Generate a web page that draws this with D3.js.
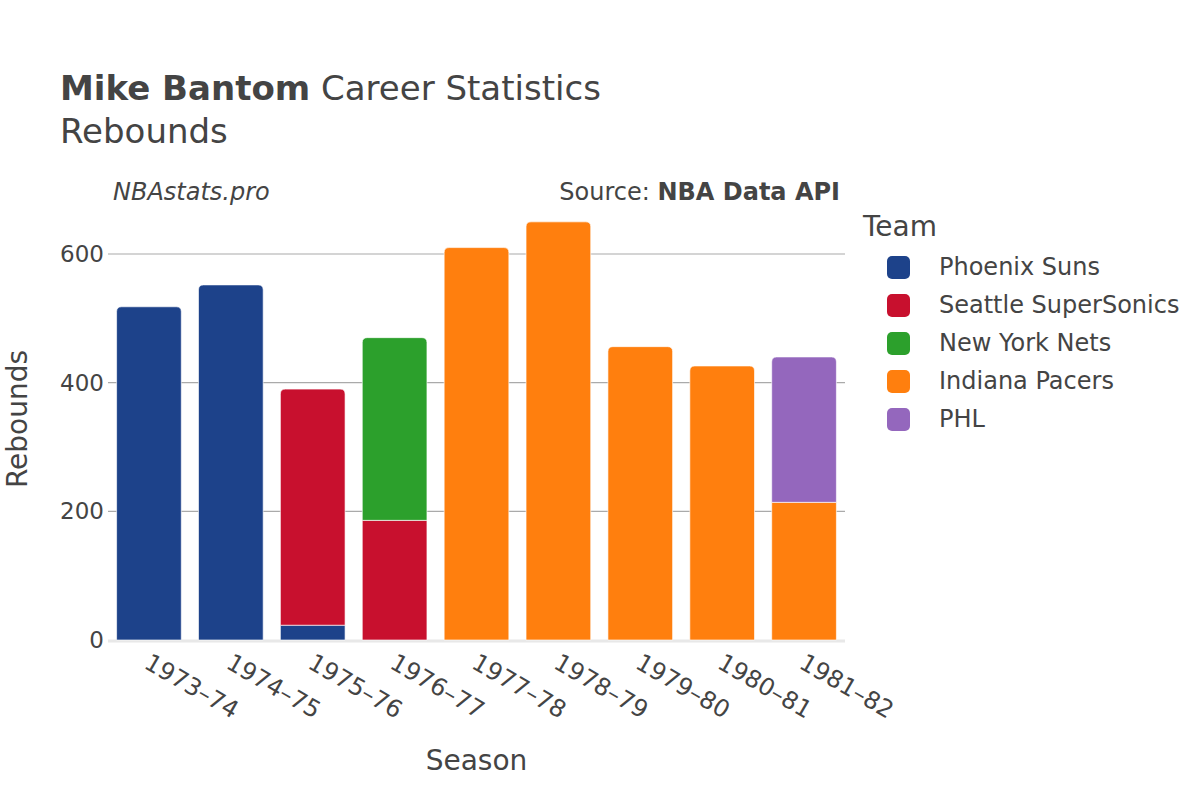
<!DOCTYPE html>
<html><head><meta charset="utf-8">
<script src="https://cdn.jsdelivr.net/npm/d3@7"></script>
<style>body{margin:0;background:#fff}svg{font-family:"DejaVu Sans",sans-serif}</style>
</head><body><svg id="c" width="1200" height="800"></svg>
<script>
const seasons = ["1973–74","1974–75","1975–76","1976–77","1977–78","1978–79","1979–80","1980–81","1981–82"];
const teams = ["Phoenix Suns","Seattle SuperSonics","New York Nets","Indiana Pacers","PHL"];
const colors = ["#1d428a","#c8102e","#2ca02c","#ff7f0e","#9467bd"];
const phoenix = [518,552,23,0,0,0,0,0,0];
const seattle = [0,0,367,186,0,0,0,0,0];
const nets    = [0,0,0,284,0,0,0,0,0];
const indiana = [0,0,0,0,610,650,456,426,214];
const phl     = [0,0,0,0,0,0,0,0,226];
const yTicks = [0,200,400,600];
const series = [phoenix,seattle,nets,indiana,phl];

const svg = d3.select("#c");
const txt = "#444";
const L=108,R=845,T=215,B=640;
const x = d3.scaleBand().domain(seasons).range([L,R]).paddingInner(0.21).paddingOuter(0.105);
const y = d3.scaleLinear().domain([0,660]).range([B,B-660*0.6433]);

// gridlines
svg.append("g").selectAll("line").data(yTicks.filter(d=>d>0)).join("line")
  .attr("x1",L).attr("x2",R).attr("y1",d=>y(d)).attr("y2",d=>y(d))
  .attr("stroke","#aaaaaa").attr("stroke-width",1.2);
svg.append("line").attr("x1",L).attr("x2",R).attr("y1",y(0)+1).attr("y2",y(0)+1)
  .attr("stroke","#e8e8e8").attr("stroke-width",3);

// y tick labels
svg.append("g").selectAll("text").data(yTicks).join("text")
  .attr("x",L-4).attr("y",d=>y(d)).attr("dy","0.35em").attr("text-anchor","end")
  .attr("font-size",23).attr("fill",txt).text(d=>d);

// bars
const rad=5;
function barPath(x0,w,y0,y1,rounded){
  const r = rounded?Math.min(rad,(y0-y1)/2,w/2):0;
  return `M${x0},${y0}V${y1+r}Q${x0},${y1} ${x0+r},${y1}H${x0+w-r}Q${x0+w},${y1} ${x0+w},${y1+r}V${y0}Z`;
}
const g = svg.append("g");
seasons.forEach((s,i)=>{
  let acc=0;
  const segs=[];
  series.forEach((arr,k)=>{ if(arr[i]>0){segs.push({k,v0:acc,v1:acc+arr[i]}); acc+=arr[i];}});
  segs.forEach((sg,j)=>{
    g.append("path").attr("d",barPath(x(s),x.bandwidth(),y(sg.v0),y(sg.v1),j===segs.length-1))
      .attr("fill",colors[sg.k]).attr("stroke","#fff").attr("stroke-width",0.8).attr("stroke-opacity",0.8);
  });
});

// x tick labels
svg.append("g").selectAll("text").data(seasons).join("text")
  .attr("transform",d=>`translate(${x(d)+x.bandwidth()/2-2},${B+20}) rotate(30)`)
  .attr("font-size",24).attr("fill",txt).attr("dy","0.35em").text(d=>d);

// axis titles
svg.append("text").attr("x",(L+R)/2).attr("y",770).attr("text-anchor","middle")
  .attr("font-size",28).attr("fill",txt).text("Season");
svg.append("text").attr("transform",`translate(17,419) rotate(-90)`).attr("text-anchor","middle")
  .attr("dy","0.35em").attr("font-size",28).attr("fill",txt).text("Rebounds");

// title
const t = svg.append("text").attr("x",60).attr("y",100).attr("font-size",34).attr("fill",txt);
t.append("tspan").attr("font-weight","bold").text("Mike Bantom");
t.append("tspan").text(" Career Statistics");
svg.append("text").attr("x",60).attr("y",143).attr("font-size",34).attr("fill",txt).text("Rebounds");

svg.append("text").attr("x",113).attr("y",200).attr("font-size",24).attr("font-style","italic").attr("fill",txt).text("NBAstats.pro");
const s2 = svg.append("text").attr("x",840).attr("y",200).attr("text-anchor","end").attr("font-size",24).attr("fill",txt);
s2.append("tspan").text("Source: ");
s2.append("tspan").attr("font-weight","bold").text("NBA Data API");

// legend
svg.append("text").attr("x",863).attr("y",236).attr("font-size",28).attr("fill",txt).text("Team");
const lg = svg.append("g").selectAll("g").data(teams).join("g")
  .attr("transform",(d,i)=>`translate(887,${267+i*38})`);
lg.append("rect").attr("x",0).attr("y",-11).attr("width",23).attr("height",23).attr("rx",5)
  .attr("fill",(d,i)=>colors[i]);
lg.append("text").attr("x",52).attr("dy","0.35em").attr("font-size",24).attr("fill",txt).text(d=>d);
</script></body></html>
